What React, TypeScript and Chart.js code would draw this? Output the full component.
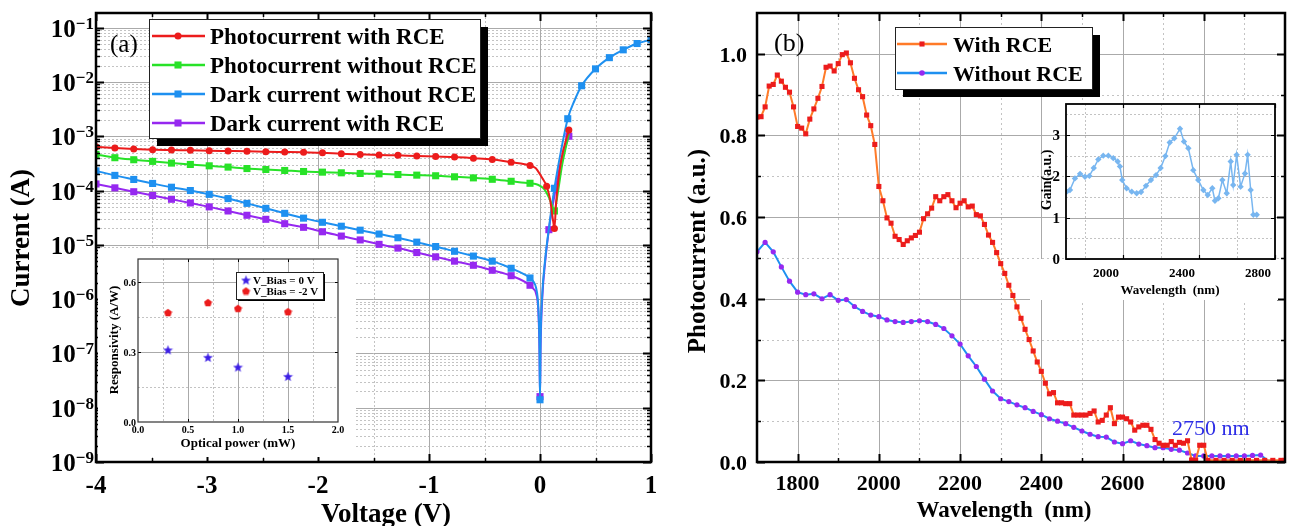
import React, { useEffect, useRef } from 'react';
import { Chart, registerables } from 'chart.js';

Chart.register(...registerables);

const SERIF = '"Liberation Serif", "Times New Roman", serif';
const font = (px: number, bold = true) => `${bold ? 'bold ' : ''}${px}px ${SERIF}`;

// ---------------- Panel (a): I–V curves ----------------
const vRev = [-4.0, -3.83, -3.66, -3.49, -3.32, -3.15, -2.98, -2.81, -2.64, -2.47, -2.3, -2.13, -1.96, -1.79, -1.62, -1.45, -1.28, -1.11, -0.94, -0.77, -0.6, -0.43, -0.26, -0.09];
const photoRce = [6.4e-4, 6.05e-4, 5.8e-4, 5.64e-4, 5.56e-4, 5.49e-4, 5.41e-4, 5.34e-4, 5.27e-4, 5.19e-4, 5.12e-4, 5.05e-4, 4.97e-4, 4.76e-4, 4.63e-4, 4.51e-4, 4.44e-4, 4.32e-4, 4.25e-4, 4.14e-4, 3.95e-4, 3.74e-4, 3.33e-4, 2.9e-4];
const photoNoRce = [4.63e-4, 4.02e-4, 3.69e-4, 3.44e-4, 3.2e-4, 3.02e-4, 2.85e-4, 2.7e-4, 2.54e-4, 2.44e-4, 2.34e-4, 2.24e-4, 2.18e-4, 2.12e-4, 2.06e-4, 2.03e-4, 1.97e-4, 1.92e-4, 1.87e-4, 1.79e-4, 1.71e-4, 1.61e-4, 1.48e-4, 1.36e-4];
const darkNoRce = [2.3e-4, 1.9e-4, 1.6e-4, 1.35e-4, 1.15e-4, 1.0e-4, 8.5e-5, 7.1e-5, 5.8e-5, 4.7e-5, 3.8e-5, 3.1e-5, 2.6e-5, 2.2e-5, 1.86e-5, 1.58e-5, 1.35e-5, 1.12e-5, 9.3e-6, 7.6e-6, 6.2e-6, 5.0e-6, 3.7e-6, 2.45e-6];
const darkRce = [1.32e-4, 1.12e-4, 9.5e-5, 8.1e-5, 6.9e-5, 5.9e-5, 5.0e-5, 4.2e-5, 3.5e-5, 2.95e-5, 2.45e-5, 2.1e-5, 1.74e-5, 1.45e-5, 1.23e-5, 1.02e-5, 8.7e-6, 7.2e-6, 6.0e-6, 5.0e-6, 4.2e-6, 3.4e-6, 2.7e-6, 1.8e-6];

const photoRceTailV = [-0.04, -0.02, 0.02, 0.06, 0.09, 0.12, 0.13, 0.145, 0.19, 0.26];
const photoRceTailI = [2.6e-4, 2.3e-4, 1.7e-4, 1.2e-4, 7e-5, 2.6e-5, 2.0e-5, 6e-5, 3.5e-4, 1.3e-3];
const photoRceTailM = [0, 0, 0, 1, 0, 0, 1, 0, 0, 1];

const photoNoRceTailV = [-0.04, 0.0, 0.04, 0.08, 0.11, 0.13, 0.16, 0.2, 0.26];
const photoNoRceTailI = [1.32e-4, 1.22e-4, 1.05e-4, 7.5e-5, 5.2e-5, 4.2e-5, 9e-5, 3e-4, 1.1e-3];
const photoNoRceTailM = [0, 0, 0, 0, 0, 1, 0, 0, 0];

const darkNoRceTailV = [-0.06, -0.035, -0.015, -0.005, 0.0, 0.005, 0.02, 0.045, 0.08, 0.13, 0.19, 0.25, 0.31, 0.375, 0.5, 0.625, 0.75, 0.875, 1.0];
const darkNoRceTailI = [2.1e-6, 1.6e-6, 7e-7, 1.5e-7, 1.4e-8, 1.5e-7, 1.2e-6, 5e-6, 2.0e-5, 1.1e-4, 5.5e-4, 2.1e-3, 4.5e-3, 8.5e-3, 1.74e-2, 2.8e-2, 3.9e-2, 5.1e-2, 6.0e-2];
const darkNoRceTailM = [0, 0, 0, 0, 1, 0, 0, 0, 0, 1, 0, 1, 0, 1, 1, 1, 1, 1, 1];

const darkRceTailV = [-0.06, -0.035, -0.015, -0.005, 0.0, 0.005, 0.02, 0.045, 0.08, 0.13, 0.19, 0.26];
const darkRceTailI = [1.55e-6, 1.25e-6, 6e-7, 1.2e-7, 1.6e-8, 1.2e-7, 1.0e-6, 4.5e-6, 1.9e-5, 8e-5, 3.5e-4, 1.0e-3];
const darkRceTailM = [0, 0, 0, 0, 1, 0, 0, 0, 1, 0, 0, 1];

const legendA = ['Photocurrent with RCE', 'Photocurrent without RCE', 'Dark current without RCE', 'Dark current with RCE'];
const voltTicks = [-4, -3, -2, -1, 0, 1];
const voltMinor = [-3.5, -2.5, -1.5, -0.5, 0.5];
const decadeExp = [1, 2, 3, 4, 5, 6, 7, 8, 9];

// ---------------- Inset (a): responsivity ----------------
const powerMW = [0.3, 0.7, 1.0, 1.5];
const resp0V = [0.31, 0.278, 0.236, 0.196];
const respM2V = [0.47, 0.513, 0.488, 0.474];
const legendInsetA = ['V_Bias = 0 V', 'V_Bias = -2 V'];
const powerTicks = [0, 0.5, 1.0, 1.5, 2.0];
const respTicks = [0, 0.3, 0.6];

// ---------------- Panel (b): spectra ----------------
const wlRce = [1700, 1710, 1720, 1730, 1740, 1750, 1760, 1770, 1780, 1790, 1800, 1810, 1820, 1830, 1840, 1850, 1860, 1870, 1880, 1890, 1900, 1910, 1920, 1930, 1940, 1950, 1960, 1970, 1980, 1990, 2000, 2010, 2020, 2030, 2040, 2050, 2060, 2070, 2080, 2090, 2100, 2110, 2120, 2130, 2140, 2150, 2160, 2170, 2180, 2190, 2200, 2210, 2220, 2230, 2240, 2250, 2260, 2270, 2280, 2290, 2300, 2310, 2320, 2330, 2340, 2350, 2360, 2370, 2380, 2390, 2400, 2410, 2420, 2430, 2440, 2450, 2460, 2470, 2480, 2490, 2500, 2510, 2520, 2530, 2540, 2550, 2560, 2570, 2580, 2590, 2600, 2610, 2620, 2630, 2640, 2650, 2660, 2670, 2680, 2690, 2700, 2710, 2720, 2730, 2740, 2750, 2760, 2770, 2780, 2790, 2800, 2810, 2830, 2850, 2870, 2890, 2910, 2930, 2950, 2970, 2990, 3000];
const pcRce = [0.845, 0.846, 0.87, 0.921, 0.925, 0.948, 0.933, 0.918, 0.906, 0.87, 0.822, 0.818, 0.804, 0.84, 0.865, 0.891, 0.92, 0.967, 0.97, 0.958, 0.976, 0.998, 1.002, 0.978, 0.94, 0.912, 0.895, 0.85, 0.824, 0.778, 0.675, 0.64, 0.598, 0.585, 0.553, 0.545, 0.533, 0.542, 0.549, 0.555, 0.563, 0.596, 0.608, 0.622, 0.65, 0.64, 0.65, 0.655, 0.64, 0.623, 0.634, 0.64, 0.625, 0.627, 0.606, 0.603, 0.582, 0.556, 0.538, 0.513, 0.486, 0.462, 0.433, 0.408, 0.38, 0.352, 0.325, 0.3, 0.272, 0.245, 0.222, 0.193, 0.167, 0.17, 0.145, 0.145, 0.143, 0.143, 0.115, 0.115, 0.115, 0.115, 0.119, 0.125, 0.098, 0.102, 0.115, 0.133, 0.094, 0.11, 0.11, 0.106, 0.098, 0.078, 0.086, 0.09, 0.09, 0.08, 0.055, 0.046, 0.041, 0.041, 0.05, 0.041, 0.048, 0.046, 0.052, 0.005, 0.004, 0.041, 0.041, 0.004, 0.004, 0.004, 0.004, 0.004, 0.004, 0.004, 0.004, 0.004, 0.004, 0.004];
const wlNoRce = [1700, 1720, 1740, 1760, 1780, 1800, 1820, 1840, 1860, 1880, 1900, 1920, 1940, 1960, 1980, 2000, 2020, 2040, 2060, 2080, 2100, 2120, 2140, 2160, 2180, 2200, 2220, 2240, 2260, 2280, 2300, 2320, 2340, 2360, 2380, 2400, 2420, 2440, 2460, 2480, 2500, 2520, 2540, 2560, 2580, 2600, 2620, 2640, 2660, 2680, 2700, 2720, 2740, 2760, 2780, 2800, 2820, 2840, 2860, 2880, 2900, 2920, 2940, 2960, 2980, 3000];
const pcNoRce = [0.515, 0.538, 0.515, 0.478, 0.443, 0.416, 0.41, 0.412, 0.4, 0.41, 0.396, 0.398, 0.381, 0.369, 0.36, 0.356, 0.348, 0.344, 0.342, 0.344, 0.346, 0.344, 0.337, 0.327, 0.309, 0.289, 0.26, 0.234, 0.203, 0.174, 0.155, 0.148, 0.14, 0.133, 0.124, 0.116, 0.106, 0.1, 0.094, 0.085, 0.076, 0.068, 0.062, 0.061, 0.049, 0.045, 0.052, 0.044, 0.04, 0.035, 0.035, 0.031, 0.029, 0.022, 0.015, 0.015, 0.015, 0.015, 0.015, 0.015, 0.015, 0.016, 0.017, 0.002, 0.002, 0.002];
const legendB = ['With RCE', 'Without RCE'];
const wlTicks = [1800, 2000, 2200, 2400, 2600, 2800];
const wlMinor = [1900, 2100, 2300, 2500, 2700, 2900];
const pcTicks = [0, 0.2, 0.4, 0.6, 0.8, 1.0];
const pcMinor = [0.1, 0.3, 0.5, 0.7, 0.9];

// ---------------- Inset (b): gain ----------------
const gainWl = [1704, 1721, 1747, 1774, 1800, 1823, 1846, 1870, 1896, 1923, 1949, 1972, 1984, 1996, 2019, 2046, 2072, 2095, 2121, 2147, 2174, 2198, 2223, 2246, 2270, 2300, 2321, 2344, 2370, 2396, 2423, 2446, 2470, 2484, 2502, 2523, 2546, 2567, 2580, 2598, 2619, 2642, 2656, 2672, 2686, 2704];
const gainVal = [1.63, 1.67, 1.95, 2.06, 1.99, 2.01, 2.2, 2.41, 2.5, 2.5, 2.44, 2.36, 2.24, 1.91, 1.71, 1.63, 1.59, 1.62, 1.77, 1.91, 2.03, 2.2, 2.49, 2.82, 2.92, 3.15, 2.84, 2.68, 2.15, 1.91, 1.67, 1.55, 1.71, 1.41, 1.47, 1.91, 1.59, 2.36, 1.79, 2.52, 1.75, 2.07, 2.52, 1.67, 1.07, 1.07];
const gainWlTicks = [2000, 2400, 2800];
const gainWlMinor = [1800, 2200, 2600];
const gainTicks = [0, 1, 2, 3];
const gainMinor = [0.5, 1.5, 2.5, 3.5];

// ---------------- colours ----------------
const C_RED = 'rgb(236,28,28)';
const C_GREEN = 'rgb(40,226,40)';
const C_BLUE = 'rgb(30,144,240)';
const C_PURPLE = 'rgb(150,40,240)';
const C_ORANGE = 'rgb(255,122,40)';
const C_LIGHTBLUE = 'rgb(120,182,240)';
const C_STAR = 'rgb(60,30,230)';
const GRID_MAJOR = 'rgb(170,170,170)';
const GRID_MINOR = 'rgb(195,195,195)';

// ---------------- helpers ----------------
const pts = (xs: number[], ys: number[], ms?: number[]) => xs.map((x, i) => ({ x, y: ys[i], m: ms ? ms[i] : 1 }));

function drawGrid(chart: any, xs: number[], ys: number[], color: string, dash: number[]) {
  const { ctx, chartArea: a, scales } = chart;
  ctx.save();
  ctx.strokeStyle = color;
  ctx.lineWidth = 1;
  ctx.setLineDash(dash);
  ctx.beginPath();
  xs.forEach((v) => {
    const p = Math.round(scales.x.getPixelForValue(v)) + 0.5;
    ctx.moveTo(p, a.top);
    ctx.lineTo(p, a.bottom);
  });
  ys.forEach((v) => {
    const p = Math.round(scales.y.getPixelForValue(v)) + 0.5;
    ctx.moveTo(a.left, p);
    ctx.lineTo(a.right, p);
  });
  ctx.stroke();
  ctx.restore();
}

function drawTicks(chart: any, xs: number[], ys: number[], len: number, w: number) {
  const { ctx, chartArea: a, scales } = chart;
  ctx.save();
  ctx.strokeStyle = '#000';
  ctx.lineWidth = w;
  ctx.beginPath();
  xs.forEach((v) => {
    const p = Math.round(scales.x.getPixelForValue(v)) + 0.5;
    ctx.moveTo(p, a.bottom);
    ctx.lineTo(p, a.bottom - len);
    ctx.moveTo(p, a.top);
    ctx.lineTo(p, a.top + len);
  });
  ys.forEach((v) => {
    const p = Math.round(scales.y.getPixelForValue(v)) + 0.5;
    ctx.moveTo(a.left, p);
    ctx.lineTo(a.left + len, p);
    ctx.moveTo(a.right, p);
    ctx.lineTo(a.right - len, p);
  });
  ctx.stroke();
  ctx.restore();
}

function drawBorder(chart: any, w: number, color = '#000') {
  const { ctx, chartArea: a } = chart;
  ctx.save();
  ctx.strokeStyle = color;
  ctx.lineWidth = w;
  ctx.strokeRect(a.left, a.top, a.right - a.left, a.bottom - a.top);
  ctx.restore();
}

function text(ctx: CanvasRenderingContext2D, s: string, x: number, y: number, f: string, align: CanvasTextAlign = 'center', color = '#000', rot = 0, baseline: CanvasTextBaseline = 'alphabetic') {
  ctx.save();
  ctx.font = f;
  ctx.fillStyle = color;
  ctx.textAlign = align;
  ctx.textBaseline = baseline;
  ctx.translate(x, y);
  if (rot) ctx.rotate(rot);
  ctx.fillText(s, 0, 0);
  ctx.restore();
}

function legendFrame(ctx: CanvasRenderingContext2D, x: number, y: number, w: number, h: number, sh: number) {
  ctx.save();
  ctx.fillStyle = '#000';
  ctx.fillRect(x + sh, y + sh, w, h);
  ctx.fillStyle = '#fff';
  ctx.fillRect(x, y, w, h);
  ctx.strokeStyle = '#222';
  ctx.lineWidth = 1;
  ctx.strokeRect(x + 0.5, y + 0.5, w, h);
  ctx.restore();
}

function marker(ctx: CanvasRenderingContext2D, kind: any, x: number, y: number, r: number, color: string) {
  ctx.save();
  ctx.fillStyle = color;
  if (kind === 'circle') {
    ctx.beginPath();
    ctx.arc(x, y, r, 0, Math.PI * 2);
    ctx.fill();
  } else if (kind === 'rect') {
    const s = r / Math.SQRT2;
    ctx.fillRect(x - s, y - s, 2 * s, 2 * s);
  } else if (kind && typeof kind === 'object') {
    ctx.drawImage(kind, x - kind.width / 2, y - kind.height / 2);
  }
  ctx.restore();
}

function legendLine(ctx: CanvasRenderingContext2D, x1: number, x2: number, y: number, lineColor: string, lw: number) {
  ctx.save();
  ctx.strokeStyle = lineColor;
  ctx.lineWidth = lw;
  ctx.beginPath();
  ctx.moveTo(x1, y);
  ctx.lineTo(x2, y);
  ctx.stroke();
  ctx.restore();
}

function polyCanvas(size: number, color: string, star: boolean) {
  const c = document.createElement('canvas');
  c.width = size;
  c.height = size;
  const g = c.getContext('2d')!;
  g.fillStyle = color;
  g.beginPath();
  const cx = size / 2;
  const cy = size / 2 + size * 0.05;
  const R = size / 2 - 0.3;
  const n = star ? 10 : 5;
  for (let i = 0; i < n; i++) {
    const ang = -Math.PI / 2 + (i * 2 * Math.PI) / n;
    const rr = star && i % 2 ? R * 0.42 : R;
    g.lineTo(cx + rr * Math.cos(ang), cy + rr * Math.sin(ang));
  }
  g.closePath();
  g.fill();
  return c;
}

const base = (pad: any) => ({
  responsive: false,
  maintainAspectRatio: false,
  animation: false as const,
  devicePixelRatio: 1,
  events: [] as any[],
  layout: { padding: pad },
  plugins: { legend: { display: false }, tooltip: { enabled: false } },
});

// ---------------- chart builders ----------------
function makeMainA(): any {
  const minorLog: number[] = [];
  decadeExp.forEach((e) => {
    for (let m = 2; m <= 9; m++) {
      const v = m * Math.pow(10, -e);
      if (v < 0.186) minorLog.push(v);
    }
  });
  const decades = decadeExp.map((e) => Math.pow(10, -e));
  const rad = (r: number) => (c: any) => (c.raw && c.raw.m ? r : 0);
  const line = (data: any[], color: string, style: string, r: number) => ({
    data,
    borderColor: color,
    backgroundColor: color,
    borderWidth: 2,
    pointStyle: style,
    pointRadius: rad(r),
    pointBorderWidth: 0,
    pointBackgroundColor: color,
    cubicInterpolationMode: 'monotone',
    fill: false,
  });
  const styles: [string, string, number][] = [
    [C_RED, 'circle', 3.5],
    [C_GREEN, 'rect', 5],
    [C_BLUE, 'rect', 5],
    [C_PURPLE, 'rect', 5],
  ];
  return {
    type: 'line',
    data: {
      datasets: [
        line([...pts(vRev, photoRce), ...pts(photoRceTailV, photoRceTailI, photoRceTailM)], C_RED, 'circle', 3.5),
        line([...pts(vRev, photoNoRce), ...pts(photoNoRceTailV, photoNoRceTailI, photoNoRceTailM)], C_GREEN, 'rect', 5),
        line([...pts(vRev, darkNoRce), ...pts(darkNoRceTailV, darkNoRceTailI, darkNoRceTailM)], C_BLUE, 'rect', 5),
        line([...pts(vRev, darkRce), ...pts(darkRceTailV, darkRceTailI, darkRceTailM)], C_PURPLE, 'rect', 5),
      ],
    },
    options: {
      ...base({ left: 96, right: 9, top: 13, bottom: 64 }),
      scales: {
        x: { type: 'linear', min: -4, max: 1, display: false, bounds: 'data' },
        y: { type: 'logarithmic', min: 1e-9, max: 0.186, display: false, bounds: 'data' },
      },
    },
    plugins: [
      {
        id: 'frameA',
        beforeDatasetsDraw(chart: any) {
          drawGrid(chart, voltMinor, minorLog, GRID_MINOR, [2, 2]);
          drawGrid(chart, voltTicks, decades, GRID_MAJOR, []);
        },
        afterDatasetsDraw(chart: any) {
          const { ctx, scales } = chart;
          drawTicks(chart, voltMinor, minorLog, 4, 1.5);
          drawTicks(chart, voltTicks, decades, 8, 2);
          drawBorder(chart, 2.5);
          voltTicks.forEach((v) => text(ctx, String(v), scales.x.getPixelForValue(v), 493, font(25)));
          decadeExp.forEach((e) => {
            const py = scales.y.getPixelForValue(Math.pow(10, -e));
            ctx.save();
            ctx.font = font(17);
            const ex = '\u2212' + e;
            const w = ctx.measureText(ex).width;
            ctx.restore();
            text(ctx, ex, 94, py + 1, font(17), 'right');
            text(ctx, '10', 94 - w, py + 9, font(25), 'right');
          });
          text(ctx, 'Current (A)', 22, 238, font(27), 'center', '#000', -Math.PI / 2, 'middle');
          text(ctx, 'Voltage (V)', 386, 522, font(27));
          text(ctx, '(a)', 110, 52, font(25, false), 'left');
          // legend
          legendFrame(ctx, 149, 19, 331, 119, 8);
          const rows = [36, 65, 94, 123];
          legendA.forEach((s, i) => {
            const [col, st, r] = styles[i];
            legendLine(ctx, 152, 205, rows[i], col, 2.5);
            marker(ctx, st, 178, rows[i], r, col);
            text(ctx, s, 210, rows[i] + 8, font(23), 'left');
          });
        },
      },
    ],
  };
}

function makeInsetA(): any {
  const star = polyCanvas(11, C_STAR, true);
  const pent = polyCanvas(9, C_RED, false);
  return {
    type: 'scatter',
    data: {
      datasets: [
        { data: pts(powerMW, resp0V), pointStyle: star, pointRadius: 5, showLine: false },
        { data: pts(powerMW, respM2V), pointStyle: pent, pointRadius: 5, showLine: false },
      ],
    },
    options: {
      ...base({ left: 40, right: 18, top: 10, bottom: 35 }),
      scales: {
        x: { type: 'linear', min: 0, max: 2.0, display: false, bounds: 'data' },
        y: { type: 'linear', min: 0, max: 0.7, display: false, bounds: 'data' },
      },
    },
    plugins: [
      {
        id: 'frameInA',
        beforeDatasetsDraw(chart: any) {
          drawGrid(chart, [0.25, 0.75, 1.25, 1.75], [0.15, 0.45], GRID_MINOR, [2, 2]);
          drawGrid(chart, [0.5, 1.0, 1.5], [0.3, 0.6], GRID_MAJOR, []);
        },
        afterDatasetsDraw(chart: any) {
          const { ctx, scales } = chart;
          drawTicks(chart, [0.5, 1.0, 1.5], [0.3, 0.6], 3, 1);
          drawBorder(chart, 1.2, '#333');
          powerTicks.forEach((v) => text(ctx, v.toFixed(1), scales.x.getPixelForValue(v), 184, font(10)));
          respTicks.forEach((v) => text(ctx, v.toFixed(1), 38, scales.y.getPixelForValue(v) + 4, font(10), 'right'));
          text(ctx, 'Responsivity (A/W)', 17, 91, font(13), 'center', '#000', -Math.PI / 2, 'middle');
          text(ctx, 'Optical power (mW)', 140, 198, font(13));
          legendFrame(ctx, 138, 23, 87, 27, 2);
          marker(ctx, star, 148, 31, 5, C_STAR);
          marker(ctx, pent, 148, 42, 5, C_RED);
          text(ctx, legendInsetA[0], 155, 35, font(11), 'left');
          text(ctx, legendInsetA[1], 155, 46, font(11), 'left');
        },
      },
    ],
  };
}

function makeMainB(): any {
  return {
    type: 'line',
    data: {
      datasets: [
        {
          data: pts(wlRce, pcRce),
          borderColor: C_ORANGE,
          borderWidth: 2,
          pointStyle: 'rect',
          pointRadius: 3.6,
          pointBorderWidth: 0,
          pointBackgroundColor: C_RED,
          tension: 0,
          fill: false,
        },
        {
          data: pts(wlNoRce, pcNoRce),
          borderColor: C_BLUE,
          borderWidth: 2,
          pointStyle: 'circle',
          pointRadius: (c: any) => (c.raw && c.raw.y < 0.005 ? 0 : 2.6),
          pointBorderWidth: 0,
          pointBackgroundColor: C_PURPLE,
          tension: 0,
          fill: false,
        },
      ],
    },
    options: {
      ...base({ left: 97, right: 3, top: 13, bottom: 64 }),
      scales: {
        x: { type: 'linear', min: 1700, max: 3000, display: false, bounds: 'data' },
        y: { type: 'linear', min: 0, max: 1.1, display: false, bounds: 'data' },
      },
    },
    plugins: [
      {
        id: 'frameB',
        beforeDatasetsDraw(chart: any) {
          drawGrid(chart, wlMinor, pcMinor, GRID_MINOR, [2, 3]);
          drawGrid(chart, wlTicks, pcTicks.slice(1), GRID_MAJOR, []);
        },
        afterDatasetsDraw(chart: any) {
          const { ctx, scales } = chart;
          drawTicks(chart, wlMinor, pcMinor, 4, 1.5);
          drawTicks(chart, wlTicks, pcTicks, 8, 2);
          drawBorder(chart, 2.5);
          wlTicks.forEach((v) => text(ctx, String(v), scales.x.getPixelForValue(v), 490, font(22)));
          pcTicks.forEach((v) => text(ctx, v.toFixed(1), 87, scales.y.getPixelForValue(v) + 8, font(22), 'right'));
          text(ctx, 'Photocurrent (a.u.)', 39, 251, font(25), 'center', '#000', -Math.PI / 2, 'middle');
          text(ctx, 'Wavelength  (nm)', 344, 517, font(23));
          text(ctx, '(b)', 114, 51, font(26, false), 'left');
          text(ctx, '2750 nm', 512, 435, font(22, false), 'left', 'rgb(45,45,230)');
          legendFrame(ctx, 235, 27, 197, 62, 8);
          legendLine(ctx, 237, 287, 44, C_ORANGE, 2.5);
          marker(ctx, 'rect', 262, 44, 3.6, C_RED);
          text(ctx, legendB[0], 293, 52, font(22), 'left');
          legendLine(ctx, 237, 287, 73, C_BLUE, 2.5);
          marker(ctx, 'circle', 262, 73, 2.8, C_PURPLE);
          text(ctx, legendB[1], 293, 81, font(22), 'left');
        },
      },
    ],
  };
}

function makeInsetB(): any {
  return {
    type: 'line',
    data: {
      datasets: [
        {
          data: pts(gainWl, gainVal),
          borderColor: C_LIGHTBLUE,
          borderWidth: 1.5,
          pointStyle: 'rectRot',
          pointRadius: 3.2,
          pointBorderWidth: 0,
          pointBackgroundColor: C_LIGHTBLUE,
          tension: 0,
          fill: false,
        },
      ],
    },
    options: {
      ...base({ left: 36, right: 14, top: 9, bottom: 46 }),
      scales: {
        x: { type: 'linear', min: 1700, max: 2800, display: false, bounds: 'data' },
        y: { type: 'linear', min: 0, max: 3.75, display: false, bounds: 'data' },
      },
    },
    plugins: [
      {
        id: 'frameInB',
        beforeDraw(chart: any) {
          const { ctx, chartArea: a } = chart;
          ctx.save();
          ctx.fillStyle = '#fff';
          ctx.fillRect(a.left, a.top, a.right - a.left, a.bottom - a.top);
          ctx.fillRect(0, a.bottom, 248, 205 - a.bottom);
          ctx.restore();
        },
        beforeDatasetsDraw(chart: any) {
          drawGrid(chart, gainWlMinor, gainMinor, GRID_MINOR, [2, 2]);
          drawGrid(chart, gainWlTicks.slice(0, 2), gainTicks.slice(1), GRID_MAJOR, []);
        },
        afterDatasetsDraw(chart: any) {
          const { ctx, scales } = chart;
          drawTicks(chart, gainWlTicks, gainTicks, 4, 1.2);
          drawBorder(chart, 1.8);
          gainWlTicks.forEach((v) => text(ctx, String(v), scales.x.getPixelForValue(v) - 17, 182, font(13)));
          gainTicks.forEach((v) => text(ctx, String(v), 30, scales.y.getPixelForValue(v) + 5, font(15), 'right'));
          text(ctx, 'Gain(a.u.)', 17, 85, font(14), 'center', '#000', -Math.PI / 2, 'middle');
          text(ctx, 'Wavelength  (nm)', 140, 199, font(13));
        },
      },
    ],
  };
}

function ChartBox(props: { left: number; top: number; width: number; height: number; bg?: string; make: () => any }) {
  const ref = useRef<HTMLCanvasElement>(null);
  useEffect(() => {
    const chart = new Chart(ref.current as HTMLCanvasElement, props.make());
    return () => chart.destroy();
  }, []);
  return (
    <canvas
      ref={ref}
      width={props.width}
      height={props.height}
      style={{ position: 'absolute', left: props.left, top: props.top, width: props.width, height: props.height, background: props.bg || 'transparent' }}
    />
  );
}

export default function App() {
  return (
    <div style={{ position: 'fixed', left: 0, top: 0, width: 1289, height: 526, background: '#fff', overflow: 'hidden' }}>
      <ChartBox left={0} top={0} width={660} height={526} make={makeMainA} />
      <ChartBox left={98} top={249} width={258} height={208} bg="#fff" make={makeInsetA} />
      <ChartBox left={660} top={0} width={629} height={526} make={makeMainB} />
      <ChartBox left={1030} top={95} width={259} height={210} make={makeInsetB} />
    </div>
  );
}
